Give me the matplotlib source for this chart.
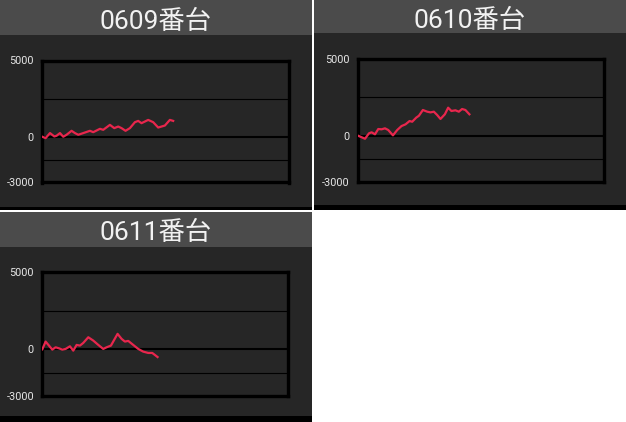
import matplotlib.pyplot as plt
from matplotlib.patches import Rectangle

W, H = 626, 422

titles = ['0609番台', '0610番台', '0611番台']

# games played / difference in medals
g0609 = [0, 107, 250, 389, 463, 573, 680, 787, 949, 1060, 1166, 1328, 1545, 1652,
         1869, 1976, 2193, 2333, 2462, 2569, 2699, 2841, 3003, 3110, 3217, 3434,
         3596, 3758, 3975, 4137, 4244]
v0609 = [0, -90, 240, 20, 65, 240, 0, 130, 390, 240, 130, 240, 390, 300,
         520, 455, 780, 565, 670, 565, 390, 565, 955, 1040, 890, 1105,
         955, 605, 735, 1105, 1040]

g0610 = [0, 117, 228, 358, 443, 553, 660, 768, 878, 985, 1138, 1277, 1418, 1548,
         1678, 1765, 1895, 1983, 2113, 2253, 2360, 2470, 2577, 2685, 2828, 2935,
         3042, 3172, 3283, 3390, 3497, 3627]
v0610 = [0, -100, -200, 155, 220, 90, 435, 415, 480, 370, 20, 370, 630, 740,
         955, 910, 1175, 1300, 1675, 1565, 1520, 1565, 1350, 1090, 1395, 1825,
         1610, 1655, 1565, 1740, 1675, 1395]

g0611 = [0, 108, 217, 325, 433, 542, 650, 758, 899, 1007, 1116, 1224, 1333, 1495,
         1657, 1820, 1982, 2090, 2232, 2448, 2578, 2686, 2795, 2957, 3120, 3282,
         3445, 3575, 3662, 3748]
v0611 = [0, 500, 240, -20, 130, 65, -20, 25, 195, -85, 285, 240, 415, 780,
         565, 285, 25, 130, 240, 1000, 675, 500, 545, 285, 25, -150,
         -235, -235, -365, -500]

y_ticks = [-3000, 0, 5000]
grid_levels = [-1500, 2500]
x_max = 8000

games = [g0609, g0610, g0611]
values = [v0609, v0610, v0611]

# panel geometry in pixels: x0, x1, top, header bottom, body bottom, strip bottom
panels = [
    (0, 312, 0, 35, 207, 210),
    (314, 626, 0, 33, 205, 210),
    (0, 312, 212, 247, 416, 422),
]
# plot frame in pixels: left, right, top, bottom
frames = [
    (42.3, 289, 60.5, 182.5),
    (358, 603.7, 59, 181.7),
    (42.3, 288.3, 272, 395.7),
]
title_base = [29, 28, 240]

header_c = '#4b4b4b'
body_c = '#262626'
line_c = '#e8264d'

fig = plt.figure(figsize=(W / 100, H / 100), dpi=100)
fig.patch.set_facecolor('white')


def rect(x0, x1, top, bottom, color):
    fig.patches.append(Rectangle((x0 / W, 1 - bottom / H), (x1 - x0) / W,
                                 (bottom - top) / H, transform=fig.transFigure,
                                 facecolor=color, edgecolor='none', zorder=-5))


for i in range(3):
    x0, x1, top, hb, bb, sb = panels[i]
    rect(x0, x1, top, hb, header_c)
    rect(x0, x1, hb, bb, body_c)
    rect(x0, x1, bb, sb, 'black')
    fig.text((x0 + x1) / 2 / W, 1 - title_base[i] / H, titles[i],
             ha='center', va='baseline', fontsize=19, color='#f2f2f2',
             family=['Roboto', 'Noto Sans CJK JP'])

    l, r, t, b = frames[i]
    ax = fig.add_axes([l / W, 1 - b / H, (r - l) / W, (b - t) / H])
    ax.set_facecolor(body_c)
    ax.plot(games[i], values[i], color=line_c, lw=1.6, zorder=3)
    for lev in grid_levels:
        ax.axhline(lev, color='black', lw=0.8, zorder=2)
    ax.axhline(0, color='black', lw=1.5, zorder=2)
    ax.set_xlim(0, x_max)
    ax.set_ylim(y_ticks[0], y_ticks[-1])
    ax.set_yticks(y_ticks)
    ax.set_yticklabels([str(v) for v in y_ticks], family='Roboto',
                       fontsize=7.8, color='#e6e6e6')
    ax.tick_params(axis='y', length=0, pad=6)
    ax.set_xticks([])
    for s in ax.spines.values():
        s.set_color('black')
        s.set_linewidth(2.4)

fig.savefig('out.png', dpi=100, facecolor='white')
